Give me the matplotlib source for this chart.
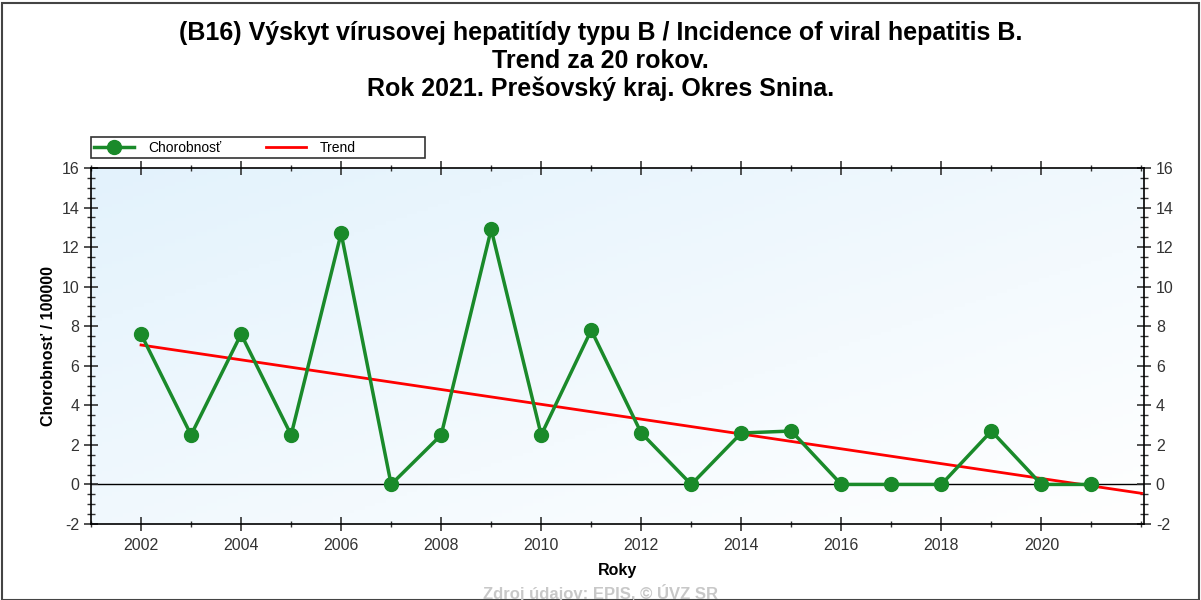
import numpy as np
import matplotlib.pyplot as plt
from matplotlib.patches import Rectangle
from matplotlib.ticker import MultipleLocator, FixedLocator

# data
years = [2002, 2003, 2004, 2005, 2006, 2007, 2008, 2009, 2010, 2011,
         2012, 2013, 2014, 2015, 2016, 2017, 2018, 2019, 2020, 2021]
rate = [7.6, 2.5, 7.6, 2.5, 12.7, 0.0, 2.5, 12.9, 2.5, 7.8,
        2.6, 0.0, 2.6, 2.7, 0.0, 0.0, 0.0, 2.7, 0.0, 0.0]
trend_years = [2002, 2022]
trend_vals = [7.05, -0.45]
year_ticks = [2002, 2004, 2006, 2008, 2010, 2012, 2014, 2016, 2018, 2020]

title = ("(B16) Výskyt vírusovej hepatitídy typu B / Incidence of viral hepatitis B.\n"
         "Trend za 20 rokov.\n"
         "Rok 2021. Prešovský kraj. Okres Snina.")

plt.rcParams['font.family'] = ['Liberation Sans', 'DejaVu Sans']
plt.rcParams['axes.unicode_minus'] = False

fig = plt.figure(figsize=(12.01, 6.0), dpi=100)
ax = fig.add_axes([0.0758, 0.1267, 0.8767, 0.5933])

# gradient background
grad = np.add.outer(np.linspace(0, 1, 100), np.linspace(0, 1, 100)) / 2
c0 = np.array([0.89, 0.95, 0.99])
c1 = np.array([1.0, 1.0, 1.0])
img = c0[None, None, :] * (1 - grad[..., None]) + c1[None, None, :] * grad[..., None]
ax.imshow(img, extent=[0, 1, 0, 1], transform=ax.transAxes, aspect='auto', zorder=0)

ax.axhline(0, color='black', lw=1, zorder=1)
ax.plot(trend_years, trend_vals, color='#ff0000', lw=2, label='Trend', zorder=2)
ax.plot(years, rate, color='#1a8a2a', lw=2.5, marker='o', markersize=10,
        label='Chorobnosť', zorder=3)

ax.set_xlim(2001, 2022.05)
ax.set_ylim(-2, 16)
ax.xaxis.set_major_locator(FixedLocator(year_ticks))
ax.xaxis.set_minor_locator(MultipleLocator(1))
ax.yaxis.set_major_locator(MultipleLocator(2))
ax.yaxis.set_minor_locator(MultipleLocator(0.5))
ax.tick_params(axis='y', which='both', direction='inout', left=True, right=True,
               labelleft=True, labelright=True, labelsize=11.5, colors='#333333')
ax.tick_params(axis='y', which='major', length=10, width=1.2)
ax.tick_params(axis='y', which='minor', length=6, width=1)
ax.tick_params(axis='x', which='both', direction='inout', top=True, bottom=True,
               labelsize=11.5, colors='#333333')
ax.tick_params(axis='x', which='major', length=10, width=1.2, pad=5)
ax.tick_params(axis='x', which='minor', length=5, width=1)
for s in ax.spines.values():
    s.set_linewidth(1.2)

ax.set_xlabel('Roky', fontsize=11.5, fontweight='bold', labelpad=7)
ax.set_ylabel('Chorobnosť / 100000', fontsize=11.5, fontweight='bold', labelpad=4)

fig.text(0.5, 0.965, title, ha='center', va='top', fontsize=18,
         fontweight='bold', linespacing=1.2)

h, l = ax.get_legend_handles_labels()
fig.legend(h[::-1], l[::-1], loc='center left', bbox_to_anchor=(0.0758, 1 - 147.5 / 600),
           ncol=2, frameon=False, fontsize=10, handlelength=2.9,
           handletextpad=1.0, columnspacing=3.2, borderaxespad=0, borderpad=0.2)
fig.patches.append(Rectangle((91 / 1201, 1 - 158 / 600), 334 / 1201, 21 / 600,
                             transform=fig.transFigure, fill=False,
                             edgecolor='#333333', lw=1.2))

fig.text(0.5, 0.012, 'Zdroj údajov: EPIS, © ÚVZ SR', ha='center', va='center',
         fontsize=12, fontweight='bold', color='#c8c8c8')

fig.patches.append(Rectangle((0.002, 0.0), 0.996, 0.995, transform=fig.transFigure,
                             fill=False, edgecolor='#444444', lw=1.5))

fig.savefig('out.png', dpi=100)
